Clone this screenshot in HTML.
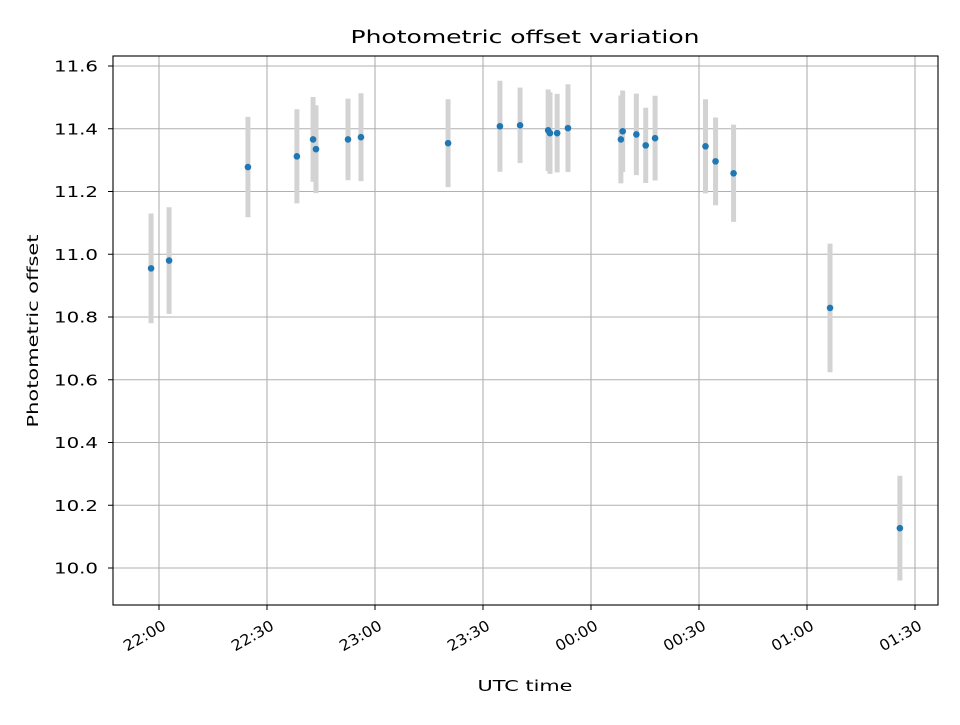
<!DOCTYPE html>
<html><head><meta charset="utf-8"><style>
body{margin:0;background:#fff}
svg text{font-family:"DejaVu Sans","Liberation Sans",sans-serif}
</style></head><body>
<svg id="chart" width="960" height="720" xmlns="http://www.w3.org/2000/svg">
<rect width="960" height="720" fill="#fff"/>
<g id="grid"></g>
<g id="marks"></g>
<rect x="113" y="56" width="825" height="549" fill="none" stroke="#000" stroke-width="1.1"/>
<g id="axes"></g>
<text x="525" y="43" text-anchor="middle" style="font-size:18px" textLength="349" lengthAdjust="spacingAndGlyphs">Photometric offset variation</text>
<text x="525" y="691" text-anchor="middle" style="font-size:15px" textLength="95" lengthAdjust="spacingAndGlyphs">UTC time</text>
<text transform="translate(38,331) rotate(-90)" text-anchor="middle" style="font-size:15px" textLength="193" lengthAdjust="spacingAndGlyphs">Photometric offset</text>
</svg>
<script>
// minutes since 22:00 UTC
const times = [-2.2,2.8,24.7,38.3,42.8,43.6,52.5,56.1,80.3,94.7,100.3,108.1,108.6,110.6,113.6,128.3,128.8,132.6,135.2,137.8,151.8,154.6,159.6,186.4,205.8];
const offsets = [10.955,10.98,11.278,11.312,11.366,11.335,11.366,11.373,11.354,11.408,11.411,11.395,11.386,11.386,11.402,11.366,11.392,11.382,11.347,11.37,11.344,11.296,11.258,10.829,10.127];
const errors = [0.175,0.17,0.16,0.15,0.135,0.14,0.13,0.14,0.14,0.145,0.12,0.13,0.13,0.125,0.14,0.14,0.13,0.13,0.12,0.135,0.15,0.14,0.155,0.205,0.167];
const yTicks = [10.0,10.2,10.4,10.6,10.8,11.0,11.2,11.4,11.6];
const xTickMins = [0,30,60,90,120,150,180,210];
const xTickLabels = ["22:00","22:30","23:00","23:30","00:00","00:30","01:00","01:30"];

const NS="http://www.w3.org/2000/svg";
const X = m => 159 + m*3.6;
const Y = v => 568 - (v-10.0)*313.75;
function mk(tag, attrs, parent){const e=document.createElementNS(NS,tag);for(const k in attrs)e.setAttribute(k,attrs[k]);parent.appendChild(e);return e;}
const grid=document.getElementById('grid'), marks=document.getElementById('marks'), axes=document.getElementById('axes');

yTicks.forEach(v=>{
  const y=Y(v);
  const g=mk('line',{x1:113,x2:938,y1:y,y2:y,stroke:'#b0b0b0','stroke-width':1.1},grid);
  
  
  const t=mk('line',{x1:108,x2:113,y1:y,y2:y,stroke:'#000','stroke-width':1},axes);
  
  
  const l=mk('text',{x:98,y:y+5.5,'text-anchor':'end',style:'font-size:15px',textLength:44,lengthAdjust:'spacingAndGlyphs'},axes);
  
  
  l.textContent=v.toFixed(1);
});
xTickMins.forEach((m,i)=>{
  const x=X(m);
  const g=mk('line',{x1:x,x2:x,y1:56,y2:605,stroke:'#b0b0b0','stroke-width':1.1},grid);
  
  
  const t=mk('line',{x1:x,x2:x,y1:605,y2:610,stroke:'#000','stroke-width':1},axes);
  
  
  const l=mk('text',{'text-anchor':'end',style:'font-size:15px',textLength:46,lengthAdjust:'spacingAndGlyphs',transform:`translate(${x+3},${620}) rotate(-30)`},axes);
  l.setAttribute('dy','10');
  
  
  l.textContent=xTickLabels[i];
});
times.forEach((m,i)=>{
  const x=X(m);
  const b=mk('line',{x1:x,x2:x,y1:Y(offsets[i]-errors[i]),y2:Y(offsets[i]+errors[i]),stroke:'#d3d3d3','stroke-width':5},marks);
  
  
});
times.forEach((m,i)=>{
  const c=mk('circle',{cx:X(m),cy:Y(offsets[i]),r:3.3,fill:'#1f77b4'},marks);
  
  
});
</script>
</body></html>
